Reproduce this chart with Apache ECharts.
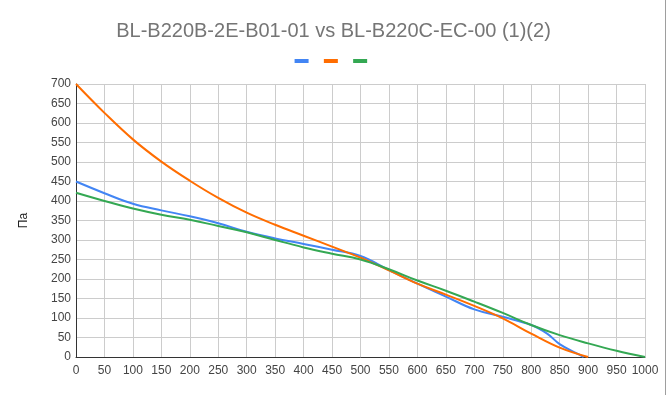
<!DOCTYPE html>
<html><head><meta charset="utf-8">
<script src="https://cdn.jsdelivr.net/npm/echarts@6/dist/echarts.min.js"></script>
<style>html,body{margin:0;padding:0;background:#fff}#c{width:667px;height:395px}</style>
</head><body><div id="c"></div>
<script>
const titleText = "BL-B220B-2E-B01-01 vs BL-B220C-EC-00 (1)(2)";
const yAxisName = "Па";
const seriesNames = ["s1", "s2", "s3"];
const blueX = [0, 50, 100, 150, 200, 250, 300, 350, 400, 450, 500, 550, 600, 650, 700, 750, 800, 828, 850, 880, 892];
const blueY = [450, 420, 393, 376, 361, 343, 321, 304, 290, 275, 259, 223, 188, 155, 122, 103, 82, 60, 33, 9, 0];
const orangeX = [0, 50, 100, 150, 200, 250, 300, 350, 400, 450, 500, 550, 600, 650, 700, 750, 800, 850, 900];
const orangeY = [700, 626, 558, 501, 452, 408, 370, 339, 311, 283, 255, 222, 188, 160, 131, 99, 60, 24, 0];
const greenX = [0, 50, 100, 150, 200, 250, 300, 350, 400, 450, 500, 550, 600, 650, 700, 750, 800, 850, 900, 950, 1000];
const greenY = [421, 400, 381, 365, 352, 336, 320, 300, 281, 265, 250, 225, 196, 170, 142, 113, 82, 56, 35, 16, 0];

const pairs = (xs, ys) => xs.map((x, i) => [x, ys[i]]);
const colors = ["#4285F4", "#FF6D01", "#34A853"];
const chart = echarts.init(document.getElementById('c'));
const mk = (name, data, color) => ({
  name, type: 'line', data, smooth: 0.4, showSymbol: false, symbol: 'none',
  lineStyle: { width: 2, color }, itemStyle: { color }
});
chart.setOption({
  animation: false,
  title: { text: titleText, left: 'center', top: 16,
    textStyle: { fontFamily: 'Arial, Liberation Sans', fontSize: 20, fontWeight: 'normal', color: '#757575' } },
  legend: { top: 54, left: 'center', itemWidth: 14, itemHeight: 4, itemGap: 10,
    icon: 'rect', data: seriesNames, textStyle: { fontSize: 1, color: 'rgba(0,0,0,0)' }, formatter: () => ' ' },
  grid: { left: 76, right: 22, top: 84, bottom: 38 },
  xAxis: { type: 'value', min: 0, max: 1000, interval: 50,
    axisLine: { show: true, lineStyle: { color: '#333', width: 1 } },
    axisTick: { show: false },
    splitLine: { show: true, lineStyle: { color: '#cccccc' } },
    axisLabel: { color: '#444', fontFamily: 'Arial, Liberation Sans', fontSize: 12, margin: 8, formatter: v => String(v) } },
  yAxis: { type: 'value', min: 0, max: 700, interval: 50, name: yAxisName,
    nameLocation: 'middle', nameGap: 46, nameRotate: 90,
    nameTextStyle: { color: '#222', fontFamily: 'Arial, Liberation Sans', fontSize: 12 },
    axisLine: { show: true, lineStyle: { color: '#333', width: 1 } },
    axisTick: { show: false },
    splitLine: { show: true, lineStyle: { color: '#cccccc' } },
    axisLabel: { color: '#444', fontFamily: 'Arial, Liberation Sans', fontSize: 12, margin: 5 } },
  graphic: [{ type: 'line', shape: { x1: 665.5, y1: 0, x2: 665.5, y2: 395 }, style: { stroke: '#9e9e9e', lineWidth: 1 } }],
  series: [
    mk(seriesNames[0], pairs(blueX, blueY), colors[0]),
    mk(seriesNames[1], pairs(orangeX, orangeY), colors[1]),
    mk(seriesNames[2], pairs(greenX, greenY), colors[2])
  ]
});
</script></body></html>
